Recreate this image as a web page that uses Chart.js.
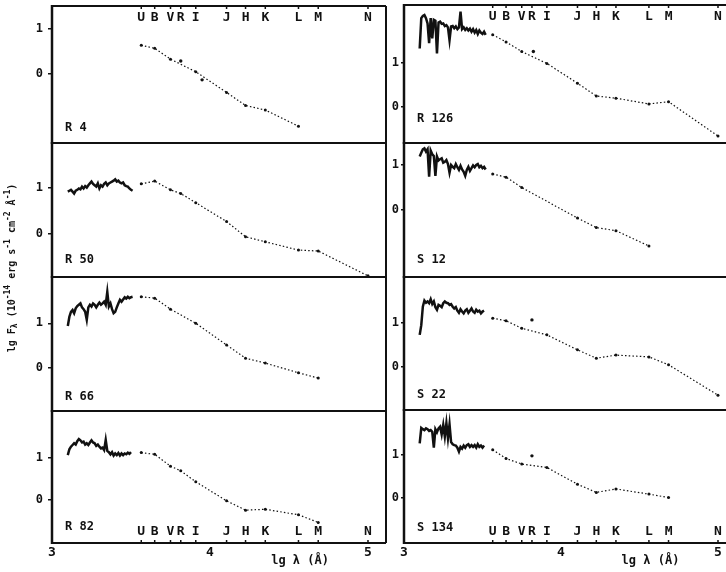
<!DOCTYPE html>
<html>
<head>
<meta charset="utf-8">
<script src="https://cdn.jsdelivr.net/npm/chart.js@4.4.1/dist/chart.umd.min.js"></script>
<style>
  body { margin: 0; background: #fff; }
  #wrap { position: relative; width: 726px; height: 572px; overflow: hidden; background: #fff; }
  #wrap canvas { position: absolute; left: 0; top: 0; }
</style>
</head>
<body>
<div id="wrap"></div>
<script>
// photometric bands (lg lambda of each filter)
const bandNames = ['U', 'B', 'V', 'R', 'I', 'J', 'H', 'K', 'L', 'M', 'N'];
const bandLg = [3.565, 3.65, 3.75, 3.815, 3.91, 4.105, 4.225, 4.35, 4.56, 4.685, 5.0];

// wavelength grid of the UV spectra
const specLg = [3.10, 3.11, 3.12, 3.13, 3.14, 3.15, 3.16, 3.17, 3.18, 3.19,
                3.20, 3.21, 3.22, 3.23, 3.24, 3.25, 3.26, 3.27, 3.28, 3.29,
                3.30, 3.31, 3.32, 3.33, 3.34, 3.35, 3.36, 3.37, 3.38, 3.39,
                3.40, 3.41, 3.42, 3.43, 3.44, 3.45, 3.46, 3.47, 3.48, 3.49,
                3.50, 3.51, 3.52];

// lg F at each band (null = not observed)
const photR4   = [0.64, 0.57, 0.33, null, 0.05, -0.41, -0.70, -0.80, -1.16, null, null];
const photR50  = [1.09, 1.15, 0.96, 0.88, 0.68, 0.27, -0.06, -0.17, -0.35, -0.37, -0.91];
const photR66  = [1.60, 1.57, 1.32, null, 1.00, 0.51, 0.21, 0.10, -0.12, -0.24, null];
const photR82  = [1.12, 1.08, 0.80, 0.69, 0.43, -0.02, -0.24, -0.22, -0.35, -0.53, null];
const photR126 = [1.64, 1.48, 1.26, null, 0.99, 0.54, 0.25, 0.20, 0.07, 0.12, -0.66];
const photS12  = [0.80, 0.73, 0.50, null, null, -0.18, -0.39, -0.46, -0.80, null, null];
const photS22  = [1.11, 1.05, 0.88, null, 0.73, 0.39, 0.20, 0.27, 0.23, 0.05, -0.64];
const photS134 = [1.12, 0.92, 0.79, null, 0.71, 0.32, 0.13, 0.21, 0.09, 0.01, null];

// single off-line points
const extraLgR4 = [3.815, 3.95];
const extraFxR4 = [0.29, -0.13];
const extraLgR126 = [3.824];
const extraFxR126 = [1.26];
const extraLgS22 = [3.815];
const extraFxS22 = [1.07];
const extraLgS134 = [3.815];
const extraFxS134 = [0.98];

// spectra, lg F on specLg
const specR50 = [0.92, 0.94, 0.96, 0.92, 0.88, 0.94, 0.96, 0.99, 0.97, 1.03,
                 0.99, 1.04, 1.01, 1.06, 1.10, 1.14, 1.09, 1.06, 1.03, 1.10,
                 0.99, 1.06, 1.03, 1.09, 1.12, 1.06, 1.10, 1.12, 1.14, 1.16,
                 1.19, 1.14, 1.16, 1.12, 1.10, 1.12, 1.06, 1.04, 1.03, 0.99,
                 0.96, 0.94, null];
const specR66 = [0.94, 1.15, 1.26, 1.30, 1.23, 1.34, 1.39, 1.42, 1.45, 1.36,
                 1.32, 1.26, 1.08, 1.36, 1.42, 1.38, 1.45, 1.42, 1.36, 1.42,
                 1.47, 1.42, 1.45, 1.49, 1.42, 1.71, 1.38, 1.45, 1.32, 1.23,
                 1.26, 1.36, 1.45, 1.53, 1.49, 1.54, 1.59, 1.56, 1.60, 1.57,
                 1.59, 1.60, null];
const specR82 = [1.06, 1.20, 1.26, 1.30, 1.34, 1.31, 1.39, 1.44, 1.41, 1.36,
                 1.38, 1.31, 1.34, 1.30, 1.36, 1.41, 1.36, 1.34, 1.28, 1.31,
                 1.26, 1.22, 1.24, 1.18, 1.42, 1.16, 1.13, 1.08, 1.13, 1.05,
                 1.10, 1.06, 1.11, 1.05, 1.10, 1.06, 1.10, 1.08, 1.12, 1.09,
                 1.13, null, null];
const specR126 = [1.33, 2.02, 2.07, 2.09, 2.02, 1.90, 1.45, 2.02, 1.56, 1.98,
                  1.96, 1.22, 1.92, 1.94, 1.89, 1.90, 1.84, 1.86, 1.81, 1.52,
                  1.83, 1.84, 1.79, 1.83, 1.77, 1.81, 2.17, 1.77, 1.81, 1.75,
                  1.79, 1.74, 1.78, 1.71, 1.77, 1.69, 1.75, 1.66, 1.74, 1.69,
                  1.66, 1.71, 1.64];
const specS12 = [1.19, 1.27, 1.35, 1.37, 1.30, 1.35, 0.74, 1.32, 1.24, 1.20,
                 0.76, 1.19, 1.10, 1.13, 1.15, 1.05, 1.07, 1.11, 1.02, 0.83,
                 1.00, 0.96, 0.93, 1.02, 0.95, 0.89, 0.98, 0.90, 0.85, 0.76,
                 0.89, 0.96, 0.87, 0.93, 0.99, 0.95, 1.00, 1.02, 0.95, 0.98,
                 0.93, 0.96, 0.90];
const specS22 = [0.73, 0.95, 1.37, 1.51, 1.46, 1.49, 1.45, 1.54, 1.43, 1.49,
                 1.36, 1.30, 1.41, 1.39, 1.36, 1.45, 1.49, 1.46, 1.45, 1.41,
                 1.43, 1.37, 1.33, 1.36, 1.28, 1.23, 1.31, 1.26, 1.22, 1.28,
                 1.31, 1.23, 1.28, 1.33, 1.26, 1.23, 1.30, 1.26, 1.28, 1.22,
                 1.26, 1.28, null];
const specS134 = [1.27, 1.63, 1.60, 1.58, 1.62, 1.60, 1.56, 1.58, 1.54, 1.17,
                  1.60, 1.53, 1.62, 1.66, 1.48, 1.70, 1.43, 1.74, 1.39, 1.71,
                  1.30, 1.25, 1.23, 1.22, 1.17, 1.08, 1.19, 1.15, 1.22, 1.17,
                  1.23, 1.25, 1.19, 1.23, 1.19, 1.23, 1.17, 1.25, 1.19, 1.22,
                  1.17, 1.22, null];

const yTicks = [0, 1];
const xTicks = [3, 4, 5];

const FONT = '"DejaVu Sans Mono", "Liberation Mono", monospace';
const INK = '#111';

// column geometry (pixels) and x range
const leftCol = { left: 52, right: 386, xmax: 5.114, rightEdge: true, tickLen: 4, tickPad: 5 };
const rightCol = { left: 404, right: 726, xmax: 5.051, rightEdge: false, tickLen: 3, tickPad: 2 };

const panels = [
  { name: 'R 4', col: leftCol, top: 6, bottom: 143, ymin: -1.533, ymax: 1.511, spec: null, phot: photR4, exLg: extraLgR4, exFx: extraFxR4, bands: 'top', nameDy: 15, yTitle: true },
  { name: 'R 50', col: leftCol, top: 143, bottom: 277, ymin: -0.935, ymax: 1.978, spec: specR50, phot: photR50, nameDy: 17 },
  { name: 'R 66', col: leftCol, top: 277, bottom: 411, ymin: -0.984, ymax: 2.048, spec: specR66, phot: photR66, nameDy: 14 },
  { name: 'R 82', col: leftCol, top: 411, bottom: 543, ymin: -1.017, ymax: 2.104, spec: specR82, phot: photR82, bands: 'bottom', nameDy: 16, xAxis: true },
  { name: 'R 126', col: rightCol, top: 5, bottom: 143, ymin: -0.818, ymax: 2.318, spec: specR126, phot: photR126, exLg: extraLgR126, exFx: extraFxR126, bands: 'top', nameDy: 24 },
  { name: 'S 12', col: rightCol, top: 143, bottom: 277, ymin: -1.489, ymax: 1.489, spec: specS12, phot: photS12, nameDy: 17 },
  { name: 'S 22', col: rightCol, top: 277, bottom: 410, ymin: -0.977, ymax: 2.045, spec: specS22, phot: photS22, exLg: extraLgS22, exFx: extraFxS22, nameDy: 15 },
  { name: 'S 134', col: rightCol, top: 410, bottom: 543, ymin: -1.047, ymax: 2.047, spec: specS134, phot: photS134, exLg: extraLgS134, exFx: extraFxS134, bands: 'bottom', nameDy: 15, xAxis: true },
];

function richWidth(ctx, parts) {
  let w = 0;
  parts.forEach(([t, dy, size]) => {
    ctx.font = `bold ${size}px ${FONT}`;
    w += ctx.measureText(t).width;
  });
  return w;
}

function drawRich(ctx, parts, x, y) {
  let cx = x;
  parts.forEach(([t, dy, size]) => {
    ctx.font = `bold ${size}px ${FONT}`;
    ctx.fillText(t, cx, y + dy);
    cx += ctx.measureText(t).width;
  });
}

const framePlugin = {
  id: 'frame',
  afterDraw(chart, args, o) {
    const { ctx, chartArea: a } = chart;
    const x = chart.scales.x;
    ctx.save();
    ctx.strokeStyle = INK;
    ctx.fillStyle = INK;

    // panel box
    ctx.lineWidth = 2;
    ctx.beginPath();
    ctx.moveTo(a.left, a.top); ctx.lineTo(a.right, a.top);
    ctx.moveTo(a.left, a.bottom); ctx.lineTo(a.right, a.bottom);
    if (o.rightEdge) { ctx.moveTo(a.right, a.top); ctx.lineTo(a.right, a.bottom); }
    ctx.stroke();
    ctx.lineWidth = 2.5;
    ctx.beginPath();
    ctx.moveTo(a.left, a.top - 1); ctx.lineTo(a.left, a.bottom + 1);
    ctx.stroke();

    // filter letters + ticks
    if (o.bands) {
      ctx.font = `bold 13px ${FONT}`;
      ctx.textAlign = 'center';
      ctx.textBaseline = 'middle';
      ctx.lineWidth = 1.5;
      const ty = o.bands === 'top' ? a.top + 12 : a.bottom - 11;
      bandNames.forEach((b, k) => {
        const px = x.getPixelForValue(bandLg[k]);
        ctx.fillText(b, px, ty);
        ctx.beginPath();
        if (o.bands === 'top') { ctx.moveTo(px, a.top); ctx.lineTo(px, a.top + 3); }
        else { ctx.moveTo(px, a.bottom); ctx.lineTo(px, a.bottom - 3); }
        ctx.stroke();
      });
    }

    // star name
    ctx.font = `bold 12px ${FONT}`;
    ctx.textAlign = 'left';
    ctx.textBaseline = 'middle';
    ctx.fillText(o.name, a.left + 13, a.bottom - o.nameDy);

    // x axis title
    if (o.xTitle) {
      const parts = [['lg λ (Å)', 0, 12]];
      ctx.textAlign = 'left';
      const w = richWidth(ctx, parts);
      drawRich(ctx, parts, x.getPixelForValue(4.57) - w / 2, 561);
    }

    // y axis title (whole figure)
    if (o.yTitle) {
      const parts = [
        ['lg F', 0, 10], ['λ', 3, 8], [' (10', 0, 10], ['-14', -4, 8],
        [' erg s', 0, 10], ['-1', -4, 8], [' cm', 0, 10], ['-2', -4, 8],
        [' Å', 0, 10], ['-1', -4, 8], [')', 0, 10],
      ];
      ctx.translate(12, 268);
      ctx.rotate(-Math.PI / 2);
      ctx.textAlign = 'left';
      const w = richWidth(ctx, parts);
      drawRich(ctx, parts, -w / 2, 0);
    }
    ctx.restore();
  }
};

const wrap = document.getElementById('wrap');

panels.forEach((p) => {
  const canvas = document.createElement('canvas');
  canvas.width = 726;
  canvas.height = 572;
  wrap.appendChild(canvas);
  const col = p.col;
  const xh = p.xAxis ? 24 : 0;

  const datasets = [];
  if (p.spec) {
    datasets.push({
      data: specLg.map((v, k) => ({ x: v, y: p.spec[k] })),
      borderColor: INK, borderWidth: 2.5, pointRadius: 0, spanGaps: false, tension: 0,
    });
  }
  datasets.push({
    data: bandLg.map((v, k) => ({ x: v, y: p.phot[k] })),
    borderColor: INK, borderWidth: 1.2, borderDash: [1.5, 2.2],
    pointRadius: 1.5, pointBackgroundColor: INK, pointBorderWidth: 0, spanGaps: true,
  });
  if (p.exLg) {
    datasets.push({
      data: p.exLg.map((v, k) => ({ x: v, y: p.exFx[k] })),
      showLine: false, pointRadius: 1.7, pointBackgroundColor: INK, pointBorderWidth: 0,
    });
  }

  new Chart(canvas, {
    type: 'line',
    data: { datasets },
    options: {
      responsive: false,
      animation: false,
      events: [],
      layout: {
        autoPadding: false,
        padding: { left: col.left - 20, right: 726 - col.right, top: p.top, bottom: 572 - p.bottom - xh },
      },
      plugins: {
        legend: { display: false },
        tooltip: { enabled: false },
        frame: { name: p.name, nameDy: p.nameDy, bands: p.bands, rightEdge: col.rightEdge, xTitle: !!p.xAxis, yTitle: !!p.yTitle },
      },
      scales: {
        x: {
          type: 'linear', min: 3, max: col.xmax, display: !!p.xAxis,
          grid: { display: false, drawTicks: false }, border: { display: false },
          afterBuildTicks: (s) => { s.ticks = xTicks.map((v) => ({ value: v })); },
          afterFit: (s) => { s.height = xh; s.paddingLeft = 0; s.paddingRight = 0; },
          ticks: { color: INK, font: { family: FONT, size: 13, weight: 'bold' }, padding: 2, maxRotation: 0, callback: (v) => String(v) },
        },
        y: {
          type: 'linear', min: p.ymin, max: p.ymax,
          grid: { display: true, drawOnChartArea: false, drawTicks: true, tickLength: col.tickLen, color: INK, lineWidth: 1.5 },
          border: { display: false },
          afterBuildTicks: (s) => { s.ticks = yTicks.map((v) => ({ value: v })); },
          afterFit: (s) => { s.width = 20; s.paddingTop = 0; s.paddingBottom = 0; },
          ticks: { color: INK, font: { family: FONT, size: 12, weight: 'bold' }, padding: col.tickPad, callback: (v) => String(v) },
        },
      },
    },
    plugins: [framePlugin],
  });
});
</script>
</body>
</html>
